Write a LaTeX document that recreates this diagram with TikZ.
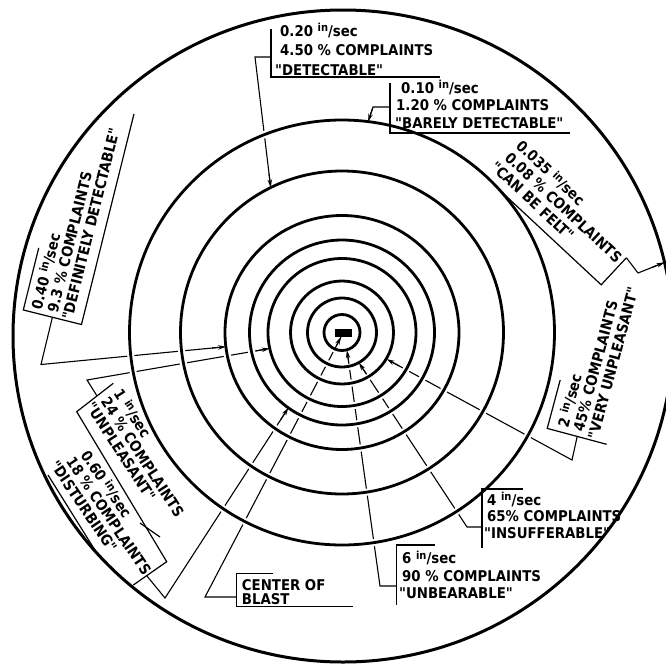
\documentclass[tikz,border=0pt]{standalone}
\usepackage{fontspec}
\newfontfamily\labfont{DejaVu Sans Condensed Bold}
\usetikzlibrary{arrows.meta,calc}
\newcommand\ips{\raisebox{0.5ex}{\fontsize{11}{11}\selectfont in}/sec}
\begin{document}
\begin{tikzpicture}[x=1pt,y=-1pt,
  ring/.style={line width=2.8pt},
  halo/.style={draw=white,line width=7pt},
  lead/.style={line width=1.1pt},
  arrowseg/.style={line width=1.1pt,-{Stealth[length=8pt,width=4.5pt]}},
  brk/.style={line width=1.2pt},
  lab/.style={anchor=base west,inner sep=0pt,font=\labfont\fontsize{14.8}{17}\selectfont},
]
\useasboundingbox (0,0) rectangle (666,664);
\clip (0,0) rectangle (666,664);
\coordinate (Cc) at (342,332.5);
% leader points
\coordinate (aS) at (271,57);    \coordinate (aB) at (255,57);   \coordinate (aT) at (270.7,187.5);
\coordinate (bS) at (390,107);   \coordinate (bB) at (373,107);  \coordinate (bT) at (368.1,121.7);
\coordinate (cS) at (626.4,257.8); \coordinate (cB) at (638,273); \coordinate (cT) at (664.6,262.4);
\coordinate (dS) at (52.4,317.2); \coordinate (dB) at (41,364.5); \coordinate (dT) at (226,346.7);
\coordinate (eS) at (577.2,436.4); \coordinate (eB) at (572,460); \coordinate (eT) at (386.6,359.1);
\coordinate (fS) at (482,527);   \coordinate (fB) at (467,527);  \coordinate (fT) at (358.9,362.7);
\coordinate (gS) at (396.7,586); \coordinate (gB) at (380,586);  \coordinate (gT) at (347,350.3);
\coordinate (hS) at (236.7,597); \coordinate (hB) at (205,597);  \coordinate (hT) at (341,337);
\coordinate (iS) at (97,395.9);  \coordinate (iB) at (87,380);   \coordinate (iT) at (269.7,348.5);
\coordinate (jS) at (146.7,575.7); \coordinate (jB) at (165,598); \coordinate (jT) at (288.4,407.8);
% leaders
\foreach \n in {a,b,c,d,e,f,g,h,i,j}{
  \draw[lead] (\n S) -- (\n B) -- (\n T);
}
% rings
\foreach \r in {18,34.5,51.5,74,92.5,117,161.5,212.5}{
  \draw[halo] (Cc) circle[radius=\r];
}
\foreach \r in {18,34.5,51.5,74,92.5,117,161.5,212.5}{
  \draw[ring] (Cc) circle[radius=\r];
}
\draw[line width=3pt] (343,336) ellipse[x radius=330,y radius=326];
\fill (335,329) rectangle (352,336.5);
% arrow tips
\foreach \n in {a,b,c,d,e,f,g,h,i,j}{
  \draw[arrowseg] ($(\n T)!14pt!(\n B)$) -- (\n T);
}
% A 0.20
\node[lab] (A1) at (280,36) {0.20 \ips};
\node[lab] (A2) at (280,55) {4.50 \% COMPLAINTS};
\node[lab] (A3) at (275,75) {"DETECTABLE"};
\draw[brk] (271,29) -- (271,77) -- (440,77);
% B 0.10
\node[lab] (B1) at (401,93) {0.10 \ips};
\node[lab] (B2) at (396,110.7) {1.20 \% COMPLAINTS};
\node[lab] (B3) at (395,128) {"BARELY DETECTABLE"};
\draw[brk] (390,83) -- (390,133) -- (570,133);
% C 0.035
\begin{scope}[shift={(515,147)},rotate=-43,transform shape]
  \node[lab] (C1) at (0,0) {0.035 \ips};
  \node[lab] (C2) at (0,16.5) {0.08 \% COMPLAINTS};
  \node[lab] (C3) at (-4,33) {"CAN BE FELT"};
  \draw[brk] (20,42) -- (157,42) -- (157,5);
\end{scope}
% D 0.40
\begin{scope}[shift={(40,309)},rotate=76,transform shape]
  \node[lab] (D1) at (-1,2) {0.40 \ips};
  \node[lab] (D2) at (0,18) {9.3 \% COMPLAINTS};
  \node[lab] (D3) at (-4,34) {"DEFINITELY DETECTABLE"};
  \draw[brk] (59,-16) -- (-5,-16) -- (-5,44) -- (212,44);
\end{scope}
% E 2
\begin{scope}[shift={(567,428)},rotate=75,transform shape]
  \node[lab] (E1) at (0,1) {2 \ips};
  \node[lab] (E2) at (0,17) {45\% COMPLAINTS};
  \node[lab] (E3) at (-4,33) {"VERY UNPLEASANT"};
  \draw[brk] (44.6,-19) -- (-5.5,-19) -- (-5.5,42.5);
\end{scope}
% F 4
\node[lab] (F1) at (487,505) {4 \ips};
\node[lab] (F2) at (487,521.5) {65\% COMPLAINTS};
\node[lab] (F3) at (484,538) {"INSUFFERABLE"};
\draw[brk] (523,489) -- (482,489) -- (482,548);
% G 6
\node[lab] (G1) at (402,563.3) {6 \ips};
\node[lab] (G2) at (402,581.7) {90 \% COMPLAINTS};
\node[lab] (G3) at (399,598.3) {"UNBEARABLE"};
\draw[brk] (435,545) -- (396.7,545) -- (396.7,605);
% H center
\node[lab] (H1) at (241.7,590) {CENTER OF};
\node[lab] (H2) at (241.7,604.5) {BLAST};
\draw[brk] (273.3,573.3) -- (236.7,573.3) -- (236.7,606.3) -- (353.3,606.3);
% I 1 in/sec
\begin{scope}[shift={(113,393.5)},rotate=-57,transform shape]
  \node[lab] (I1) at (0,0) {1 \ips};
  \node[lab] (I2) at (0,15.2) {24 \% COMPLAINTS};
  \node[lab] (I3) at (-4,30.4) {"UNPLEASANT"};
\end{scope}
% J 0.60
\begin{scope}[shift={(80,455)},rotate=-56,transform shape]
  \node[lab] (J1) at (0,0) {0.60 \ips};
  \node[lab] (J2) at (-3,15.5) {18 \% COMPLAINTS};
  \node[lab] (J3) at (-9,31) {"DISTURBING"};
\end{scope}
% shared bracket of I and J
\draw[brk] (113.3,383.3) -- (76.7,411.7) -- (166.7,561.7) -- (133.3,585);
\draw[brk] (48,475) -- (98,555);
\draw[brk] (140,523) -- (160,537);
\end{tikzpicture}
\end{document}
